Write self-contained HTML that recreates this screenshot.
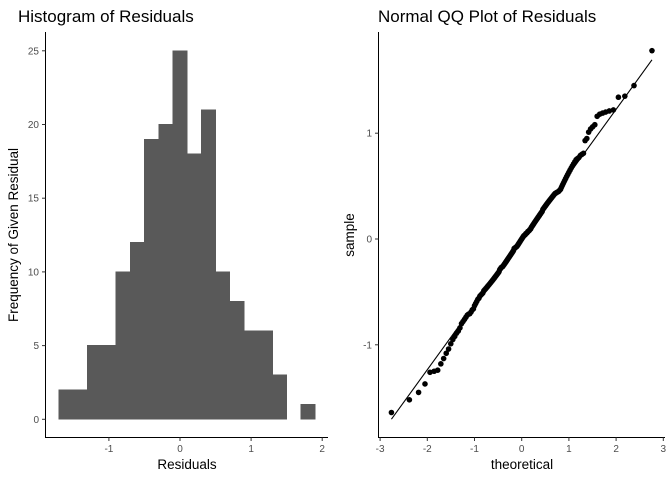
<!DOCTYPE html>
<html><head><meta charset="utf-8"><style>
body{margin:0;background:#fff;}
svg{display:block;font-family:"Liberation Sans",sans-serif;}
.tick{font-size:10px;fill:#4d4d4d;}
.ttl{font-size:17px;fill:#000;}
.axt{font-size:13.5px;fill:#000;}
</style></head><body>
<svg id="c" width="672" height="480" xmlns="http://www.w3.org/2000/svg"></svg>
<script>
const residuals = [-1.64,-1.52,-1.45,-1.37,-1.26,-1.25,-1.24,-1.18,-1.13,-1.08,-1.04,-0.99,-0.95,-0.92,
-0.89,-0.87,-0.84,-0.80,-0.78,-0.76,-0.74,-0.72,-0.71,-0.705,
-0.69,-0.67,-0.66,-0.63,-0.61,-0.59,-0.57,-0.56,-0.54,-0.53,-0.52,-0.51,
-0.49,-0.48,-0.47,-0.46,-0.45,-0.44,-0.43,-0.42,-0.41,-0.40,-0.39,-0.38,-0.37,-0.36,-0.35,-0.34,-0.33,-0.32,-0.31,
-0.29,-0.28,-0.27,-0.265,-0.26,-0.25,-0.24,-0.23,-0.22,-0.21,-0.20,-0.19,-0.18,-0.17,-0.16,-0.15,-0.14,-0.13,-0.12,-0.11,
-0.09,-0.085,-0.08,-0.075,-0.07,-0.06,-0.05,-0.04,-0.03,-0.02,-0.01,0.0,0.01,0.02,0.03,0.035,0.04,0.05,0.055,0.06,0.07,0.075,0.08,0.09,0.095,
0.11,0.12,0.13,0.14,0.15,0.16,0.17,0.18,0.19,0.20,0.21,0.22,0.23,0.24,0.25,0.26,0.28,0.29,
0.30,0.31,0.32,0.33,0.34,0.35,0.36,0.37,0.38,0.39,0.40,0.41,0.42,0.43,0.435,0.44,0.445,0.45,0.46,0.47,0.49,
0.51,0.53,0.55,0.57,0.59,0.61,0.63,0.65,0.67,0.69,
0.71,0.73,0.75,0.76,0.77,0.79,0.80,0.81,
0.93,0.95,1.01,1.04,1.06,1.08,
1.16,1.18,1.19,1.20,1.21,1.22,
1.34,1.35,1.45,
1.78];
const binStart = -1.7;
const binWidth = 0.2;
const histXTicks = [-1,0,1,2];
const histYTicks = [0,5,10,15,20,25];
const qqXTicks = [-3,-2,-1,0,1,2,3];
const qqYTicks = [-1,0,1];

const NS="http://www.w3.org/2000/svg";
const svg=document.getElementById('c');
function mk(tag,attrs,parent){const e=document.createElementNS(NS,tag);for(const k in attrs)e.setAttribute(k,attrs[k]);(parent||svg).appendChild(e);return e;}
function txt(s,attrs){const e=mk('text',attrs);e.textContent=s;return e;}

// ---------- Histogram ----------
const hx=v=>180+v*71.1, hy=v=>419.3-v*14.74;
const nb=Math.round((Math.max(...residuals)-binStart)/binWidth+0.5);
const counts=new Array(nb).fill(0);
residuals.forEach(r=>{let i=Math.floor((r-binStart)/binWidth+1e-9);if(i>=0&&i<nb)counts[i]++;});
const hg=mk('g',{'shape-rendering':'crispEdges'});


counts.forEach((c,i)=>{if(!c)return;const x0=hx(binStart+i*binWidth),x1=hx(binStart+(i+1)*binWidth);
 const r=mk('rect',{x:x0,y:hy(c),width:x1-x0,height:hy(0)-hy(c),fill:'#595959',stroke:'#595959','stroke-width':0.8},hg);
 
 });
const ha1=mk('line',{x1:45.5,y1:32,x2:45.5,y2:437.5,stroke:'#000','stroke-width':1});

const ha2=mk('line',{x1:45,y1:437.5,x2:328,y2:437.5,stroke:'#000','stroke-width':1});

histXTicks.forEach(t=>{mk('line',{x1:hx(t),x2:hx(t),y1:437.5,y2:441,stroke:'#333'});
 const e=txt(String(t),{x:hx(t),y:452,'text-anchor':'middle',class:'tick'});
 });
histYTicks.forEach(t=>{mk('line',{x1:42,x2:45.5,y1:hy(t),y2:hy(t),stroke:'#333'});
 const e=txt(String(t),{x:39,y:hy(t)+3.5,'text-anchor':'end',class:'tick'});
 });
let e=txt('Histogram of Residuals',{x:18,y:22,class:'ttl'});

e=txt('Residuals',{x:187,y:469,'text-anchor':'middle',class:'axt'});

e=txt('Frequency of Given Residual',{x:0,y:0,'text-anchor':'middle',class:'axt',transform:'translate(18,235) rotate(-90)'});


// ---------- QQ plot ----------
function qnorm(p){const a=[-39.69683028665376,220.9460984245205,-275.9285104469687,138.357751867269,-30.66479806614716,2.506628277459239],
b=[-54.47609879822406,161.5858368580409,-155.6989798598866,66.80131188771972,-13.28068155288572],
c=[-0.007784894002430293,-0.3223964580411365,-2.400758277161838,-2.549732539343734,4.374664141464968,2.938163982698783],
d=[0.007784695709041462,0.3224671290700398,2.445134137142996,3.754408661907416];
const pl=0.02425;let q,r;
if(p<pl){q=Math.sqrt(-2*Math.log(p));return(((((c[0]*q+c[1])*q+c[2])*q+c[3])*q+c[4])*q+c[5])/((((d[0]*q+d[1])*q+d[2])*q+d[3])*q+1);}
if(p>1-pl){q=Math.sqrt(-2*Math.log(1-p));return-(((((c[0]*q+c[1])*q+c[2])*q+c[3])*q+c[4])*q+c[5])/((((d[0]*q+d[1])*q+d[2])*q+d[3])*q+1);}
q=p-0.5;r=q*q;return(((((a[0]*r+a[1])*r+a[2])*r+a[3])*r+a[4])*r+a[5])*q/(((((b[0]*r+b[1])*r+b[2])*r+b[3])*r+b[4])*r+1);}
const qx=v=>521.7+v*47.2, qy=v=>239-v*105.8;
const sorted=residuals.slice().sort((a,b)=>a-b);const n=sorted.length;
const theo=sorted.map((_,i)=>qnorm((i+0.5)/n));
function quant(arr,p){const h=(arr.length-1)*p,lo=Math.floor(h);return arr[lo]+(h-lo)*(arr[Math.min(lo+1,arr.length-1)]-arr[lo]);}
const slope=(quant(sorted,0.75)-quant(sorted,0.25))/(qnorm(0.75)-qnorm(0.25));
const icpt=quant(sorted,0.25)-slope*qnorm(0.25);
const pg=mk('g',{});


sorted.forEach((s,i)=>{const c=mk('circle',{cx:qx(theo[i]),cy:qy(s),r:2.8,fill:'#000'},pg);
 
 });
const t0=theo[0],t1=theo[n-1];
const ql=mk('line',{x1:qx(t0),y1:qy(icpt+slope*t0),x2:qx(t1),y2:qy(icpt+slope*t1),stroke:'#000','stroke-width':1.1});

const qa1=mk('line',{x1:378.5,y1:32,x2:378.5,y2:437.5,stroke:'#000'});

const qa2=mk('line',{x1:378,y1:437.5,x2:665,y2:437.5,stroke:'#000'});

qqXTicks.forEach(t=>{mk('line',{x1:qx(t),x2:qx(t),y1:437.5,y2:441,stroke:'#333'});
 const e=txt(String(t),{x:qx(t),y:452,'text-anchor':'middle',class:'tick'});
 });
qqYTicks.forEach(t=>{mk('line',{x1:375,x2:378.5,y1:qy(t),y2:qy(t),stroke:'#333'});
 const e=txt(String(t),{x:372,y:qy(t)+3.5,'text-anchor':'end',class:'tick'});
 });
e=txt('Normal QQ Plot of Residuals',{x:378,y:22,class:'ttl'});

e=txt('theoretical',{x:522,y:469,'text-anchor':'middle',class:'axt'});

e=txt('sample',{x:0,y:0,'text-anchor':'middle',class:'axt',transform:'translate(354,235) rotate(-90)'});

</script>
</body></html>
